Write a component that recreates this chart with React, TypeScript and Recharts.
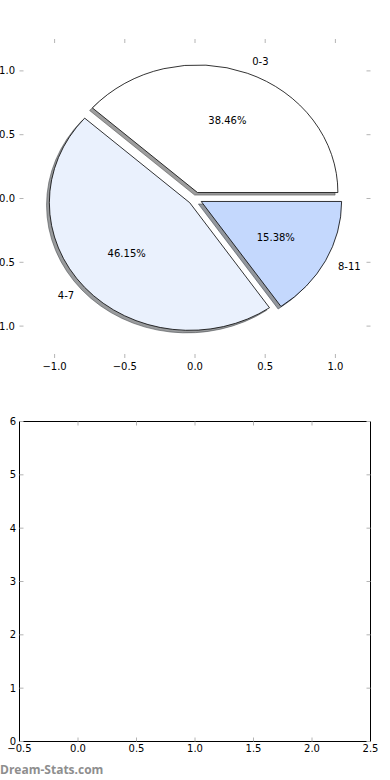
import React from 'react';
import { PieChart, Pie, Cell, ScatterChart, Scatter, XAxis, YAxis } from 'recharts';

// ---- data ----
const categories = ['0-3', '4-7', '8-11'];
const counts = [5, 6, 2];
const pieTicks = [-1, -0.5, 0, 0.5, 1];
const lowerXTicks = [-0.5, 0, 0.5, 1, 1.5, 2, 2.5];
const lowerYTicks = [0, 1, 2, 3, 4, 5, 6];
const pieDomain = [-1.25, 1.25];
const lowerXDomain = [-0.5, 2.5];
const lowerYDomain = [0, 6];

// ---- styles ----
const sliceColors = ['#ffffff', '#eaf1fd', '#c4d8fd'];
const TICK_GRAY = '#b4b4b4';
const FONT = 'DejaVu Sans';

const pieData = categories.map((name, i) => ({ name, value: counts[i] }));

// ---- layout ----
const W = 390;
const H = 390;
const PL = 19.5;
const PR = 19.5;
const TOP_T = 39;
const TOP_B = 32;
const BOT_T = 31.5;
const BOT_B = 38.5;
const PW = W - PL - PR;
const TOP_PH = H - TOP_T - TOP_B;
const LIM = 1.25;
const RX = PW / (2 * LIM);
const RY = TOP_PH / (2 * LIM);
const PCX = PL + PW / 2;
const PCY = TOP_T + TOP_PH / 2;
const EXPLODE = 0.05;
const SHADOW = 0.02;

const rad = (d: number) => (d * Math.PI) / 180;

function wedgePath(cx: number, cy: number, s: number, e: number, dx: number, dy: number) {
  const m = rad((s + e) / 2);
  const ox = cx + EXPLODE * RX * Math.cos(m) + dx;
  const oy = cy - EXPLODE * RY * Math.sin(m) + dy;
  const x1 = ox + RX * Math.cos(rad(s));
  const y1 = oy - RY * Math.sin(rad(s));
  const x2 = ox + RX * Math.cos(rad(e));
  const y2 = oy - RY * Math.sin(rad(e));
  const large = Math.abs(e - s) > 180 ? 1 : 0;
  return `M${ox},${oy}L${x1},${y1}A${RX},${RY} 0 ${large} 0 ${x2},${y2}Z`;
}

function shadowColor(hex: string) {
  const h = hex.replace('#', '');
  const r = Math.round(parseInt(h.slice(0, 2), 16) * 0.3);
  const g = Math.round(parseInt(h.slice(2, 4), 16) * 0.3);
  const b = Math.round(parseInt(h.slice(4, 6), 16) * 0.3);
  return `rgba(${r},${g},${b},0.55)`;
}

const WedgeShape = (p: any) => {
  const cx = typeof p.cx === 'number' ? p.cx : PCX;
  const cy = typeof p.cy === 'number' ? p.cy : PCY;
  return (
    <path
      d={wedgePath(cx, cy, p.startAngle, p.endAngle, 0, 0)}
      fill={p.fill}
      stroke="#000"
      strokeWidth={0.8}
      strokeLinejoin="miter"
    />
  );
};

const ShadowShape = (p: any) => {
  const cx = typeof p.cx === 'number' ? p.cx : PCX;
  const cy = typeof p.cy === 'number' ? p.cy : PCY;
  const c = shadowColor(sliceColors[p.index ?? 0] || '#ffffff');
  return (
    <path
      d={wedgePath(cx, cy, p.startAngle, p.endAngle, -SHADOW * RX, SHADOW * RY)}
      fill={c}
      stroke={c}
      strokeWidth={1}
    />
  );
};

const renderLabel = (p: any) => {
  const cx = typeof p.cx === 'number' ? p.cx : PCX;
  const cy = typeof p.cy === 'number' ? p.cy : PCY;
  const mid = typeof p.midAngle === 'number' ? p.midAngle : (p.startAngle + p.endAngle) / 2;
  const m = rad(mid);
  const c = Math.cos(m);
  const s = Math.sin(m);
  const ox = cx + EXPLODE * RX * c;
  const oy = cy - EXPLODE * RY * s;
  const pct = ((p.percent ?? 0) * 100).toFixed(2) + '%';
  return (
    <g>
      <text
        x={ox + 1.1 * RX * c}
        y={oy - 1.1 * RY * s}
        textAnchor={c > 0 ? 'start' : 'end'}
        dominantBaseline="central"
        fontFamily={FONT}
        fontSize={10}
        fill="#000"
      >
        {p.name}
      </text>
      <text
        x={ox + 0.6 * RX * c}
        y={oy - 0.6 * RY * s}
        textAnchor="middle"
        dominantBaseline="central"
        fontFamily={FONT}
        fontSize={10}
        fill="#000"
      >
        {pct}
      </text>
    </g>
  );
};

const fmt1 = (v: number) => (v < 0 ? '\u2212' : '') + Math.abs(v).toFixed(1);
const fmt0 = (v: number) => (v < 0 ? '\u2212' : '') + Math.abs(v).toFixed(0);
const tickText = { fill: '#000', fontSize: 10, fontFamily: FONT };
const noTick = () => <g />;

function Frame(props: {
  xDomain: number[];
  yDomain: number[];
  xTicks: number[];
  yTicks: number[];
  top: number;
  bottom: number;
  xFmt: (v: number) => string;
  yFmt: (v: number) => string;
  frame: boolean;
  xMargin: number;
  yMargin: number;
}) {
  const axisLine = props.frame ? { stroke: '#000', strokeWidth: 1 } : false;
  return (
    <ScatterChart width={W} height={H} margin={{ top: props.top - 1, right: PR - 1, bottom: 0, left: 0 }}>
      <XAxis xAxisId="b" type="number" dataKey="x" domain={props.xDomain} ticks={props.xTicks} interval={0}
        height={props.bottom} axisLine={axisLine} tickLine={{ stroke: TICK_GRAY }} tickSize={-4} tickMargin={props.xMargin}
        tick={tickText} tickFormatter={props.xFmt} allowDataOverflow />
      <XAxis xAxisId="t" orientation="top" type="number" dataKey="x" domain={props.xDomain} ticks={props.xTicks} interval={0}
        height={1} axisLine={axisLine} tickLine={{ stroke: TICK_GRAY }} tickSize={-4} tick={noTick} allowDataOverflow />
      <YAxis yAxisId="l" type="number" dataKey="y" domain={props.yDomain} ticks={props.yTicks} interval={0}
        width={PL} axisLine={axisLine} tickLine={{ stroke: TICK_GRAY }} tickSize={-4} tickMargin={props.yMargin}
        tick={tickText} tickFormatter={props.yFmt} allowDataOverflow />
      <YAxis yAxisId="r" orientation="right" type="number" dataKey="y" domain={props.yDomain} ticks={props.yTicks} interval={0}
        width={1} axisLine={axisLine} tickLine={{ stroke: TICK_GRAY }} tickSize={-4} tick={noTick} allowDataOverflow />
      <Scatter xAxisId="b" yAxisId="l" data={[]} isAnimationActive={false} />
      <Scatter xAxisId="t" yAxisId="r" data={[]} isAnimationActive={false} />
    </ScatterChart>
  );
}

export default function App() {
  return (
    <div style={{ position: 'absolute', left: 0, top: 0, width: 390, height: 780, background: '#fff', fontFamily: FONT }}>
      {/* upper axes (ticks only) */}
      <div style={{ position: 'absolute', left: 0, top: 0 }}>
        <Frame xDomain={pieDomain} yDomain={pieDomain} xTicks={pieTicks} yTicks={pieTicks}
          top={TOP_T} bottom={TOP_B} xFmt={fmt1} yFmt={fmt1} frame={false} xMargin={8.5} yMargin={8.5} />
      </div>
      {/* pie overlay */}
      <div style={{ position: 'absolute', left: 0, top: 0 }}>
        <PieChart width={W} height={H} margin={{ top: 0, right: 0, bottom: 0, left: 0 }}>
          <Pie data={pieData} dataKey="value" nameKey="name" cx={PCX} cy={PCY} outerRadius={RX}
            startAngle={0} endAngle={360} isAnimationActive={false}
            shape={ShadowShape} activeShape={ShadowShape} inactiveShape={ShadowShape}>
            {pieData.map((d, i) => (
              <Cell key={d.name} fill={sliceColors[i]} />
            ))}
          </Pie>
          <Pie data={pieData} dataKey="value" nameKey="name" cx={PCX} cy={PCY} outerRadius={RX}
            startAngle={0} endAngle={360} isAnimationActive={false}
            label={renderLabel} labelLine={false}
            shape={WedgeShape} activeShape={WedgeShape} inactiveShape={WedgeShape}>
            {pieData.map((d, i) => (
              <Cell key={d.name} fill={sliceColors[i]} />
            ))}
          </Pie>
        </PieChart>
      </div>
      {/* lower empty axes */}
      <div style={{ position: 'absolute', left: 0, top: 390 }}>
        <Frame xDomain={lowerXDomain} yDomain={lowerYDomain} xTicks={lowerXTicks} yTicks={lowerYTicks}
          top={BOT_T} bottom={BOT_B} xFmt={fmt1} yFmt={fmt0} frame={true} xMargin={7.5} yMargin={7.5} />
      </div>
      <div style={{ position: 'absolute', left: 0, top: 762, fontFamily: 'Open Sans', fontWeight: 700, fontSize: 12, color: '#8e8e8e', lineHeight: '16px', whiteSpace: 'nowrap' }}>
        Dream-Stats.com
      </div>
    </div>
  );
}
